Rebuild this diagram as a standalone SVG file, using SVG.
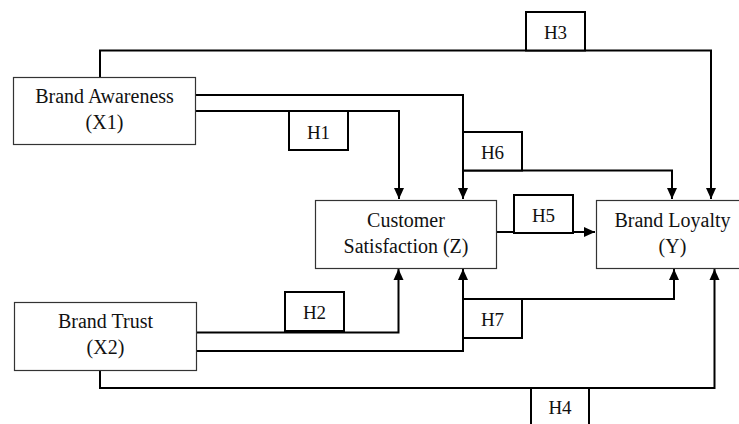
<svg xmlns="http://www.w3.org/2000/svg" width="739" height="424" viewBox="0 0 739 424">
<style>
.node{fill:#fff;stroke:#333;stroke-width:1.2}
.lbl{fill:#fff;stroke:#000;stroke-width:2}
.c{fill:none;stroke:#000;stroke-width:2}
.t{font-size:20px}
.h{font-size:19px}
.f{font-family:"Times New Roman",Times,"Liberation Serif","DejaVu Serif",FreeSerif,serif}
</style>
<defs>
<marker id="ah" markerUnits="userSpaceOnUse" markerWidth="12" markerHeight="12" viewBox="0 0 12 12" refX="11" refY="6" orient="auto">
<path d="M0,1 L11,6 L0,11 Z" fill="#000"/>
</marker>
</defs>
<g id="connectors">
<path class="c" d="M100,77 V50.5 H711 V199" marker-end="url(#ah)"/>
<path class="c" d="M196,111 H399 V199" marker-end="url(#ah)"/>
<path class="c" d="M196,95 H463 V199" marker-end="url(#ah)"/>
<path class="c" d="M463,170.5 H672 V199" marker-end="url(#ah)"/>
<path class="c" d="M196,332.5 H398.5 V269" marker-end="url(#ah)"/>
<path class="c" d="M196,351 H463 V269" marker-end="url(#ah)"/>
<path class="c" d="M463,299 H674 V269" marker-end="url(#ah)"/>
<path class="c" d="M100,370 V388 H714.5 V269" marker-end="url(#ah)"/>
<path class="c" d="M497,232 H595" marker-end="url(#ah)"/>
</g>
<g class="f" fill="#111" text-anchor="middle">
<g id="brand-awareness">
<rect class="node" x="13.5" y="77.5" width="182" height="67"/>
<text class="t f" x="104.5" y="103">Brand Awareness</text>
<text class="t f" x="104.5" y="129">(X1)</text>
</g>
<g id="brand-trust">
<rect class="node" x="14.5" y="302.5" width="182" height="68"/>
<text class="t f" x="105.5" y="328">Brand Trust</text>
<text class="t f" x="105.5" y="354">(X2)</text>
</g>
<g id="customer-satisfaction">
<rect class="node" x="315.5" y="200.5" width="181" height="68"/>
<text class="t f" x="406" y="227">Customer</text>
<text class="t f" x="406" y="253">Satisfaction (Z)</text>
</g>
<g id="brand-loyalty">
<rect class="node" x="596.5" y="200.5" width="152" height="68"/>
<text class="t f" x="672.5" y="227">Brand Loyalty</text>
<text class="t f" x="672.5" y="253">(Y)</text>
</g>
<g id="h1"><rect class="lbl" x="289" y="111" width="59" height="39"/><text class="h f" x="318.5" y="139">H1</text></g>
<g id="h2"><rect class="lbl" x="285" y="292" width="59" height="39"/><text class="h f" x="314.5" y="319">H2</text></g>
<g id="h3"><rect class="lbl" x="526" y="12" width="59" height="38.5"/><text class="h f" x="555.5" y="38.5">H3</text></g>
<g id="h4"><rect class="lbl" x="531" y="388" width="58" height="40"/><text class="h f" x="560" y="414">H4</text></g>
<g id="h5"><rect class="lbl" x="514" y="195" width="59" height="38"/><text class="h f" x="543.5" y="222">H5</text></g>
<g id="h6"><rect class="lbl" x="463" y="132" width="59" height="38.5"/><text class="h f" x="492.5" y="158.5">H6</text></g>
<g id="h7"><rect class="lbl" x="463" y="299" width="59" height="39"/><text class="h f" x="492.5" y="326">H7</text></g>
</g>
</svg>
